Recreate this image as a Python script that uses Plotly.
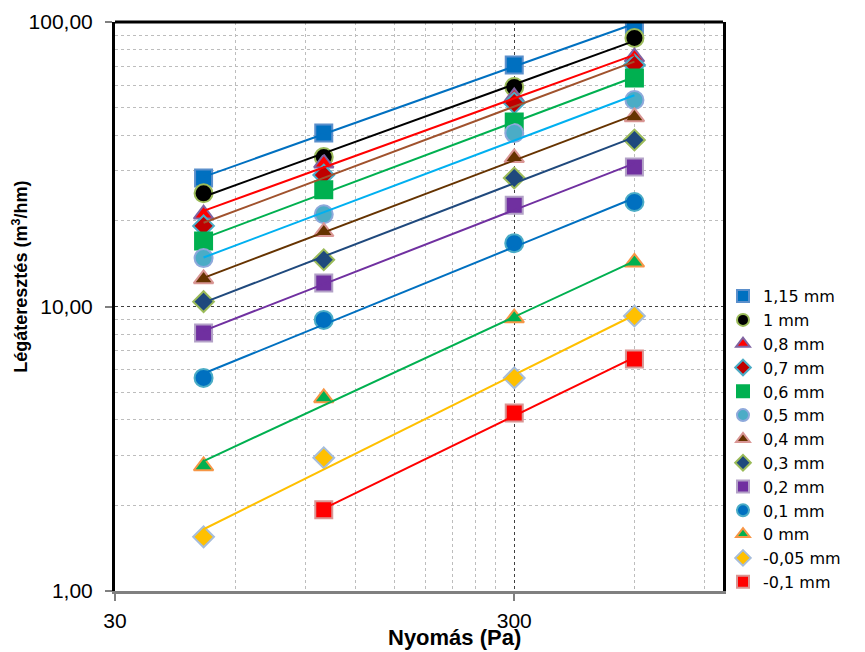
import numpy as np
import plotly.graph_objects as go

# ---------------- data ----------------
pressure = [50, 100, 300, 600]
pressure_short = [100, 300, 600]

labels = ["1,15 mm", "1 mm", "0,8 mm", "0,7 mm", "0,6 mm", "0,5 mm", "0,4 mm",
          "0,3 mm", "0,2 mm", "0,1 mm", "0 mm", "-0,05 mm", "-0,1 mm"]

s_115 = [28.3, 40.7, 70.6, 97.6]
s_100 = [25.0, 33.5, 59.1, 87.9]
s_080 = [21.1, 31.9, 54.5, 75.3]
s_070 = [19.2, 29.0, 51.9, 70.6]
s_060 = [17.0, 25.7, 44.5, 63.6]
s_050 = [14.8, 21.1, 40.7, 53.2]
s_040 = [12.5, 18.3, 33.3, 46.4]
s_030 = [10.4, 14.6, 28.3, 38.5]
s_020 = [8.07, 12.1, 22.7, 30.9]
s_010 = [5.61, 8.97, 16.7, 23.3]
s_000 = [2.75, 4.77, 9.11, 14.3]
s_m005 = [1.55, 2.94, 5.61, 9.26]
s_m010 = [1.93, 4.22, 6.54]

x_tick_vals = [30, 300]
x_tick_text = ["30", "300"]
y_tick_vals = [1, 10, 100]
y_tick_text = ["1,00", "10,00", "100,00"]
x_minor_vals = [60, 90, 120, 150, 180, 210, 240, 270, 600, 900]
y_minor_vals = [2, 3, 4, 5, 6, 7, 8, 9, 20, 30, 40, 50, 60, 70, 80, 90]

series_y = [s_115, s_100, s_080, s_070, s_060, s_050, s_040, s_030, s_020,
            s_010, s_000, s_m005, s_m010]
series_x = [pressure] * 12 + [pressure_short]

# ---------------- styles ----------------
symbols = ["square", "circle", "triangle-up", "diamond", "square", "circle",
           "triangle-up", "diamond", "square", "circle", "triangle-up",
           "diamond", "square"]
fills = ["#0070C0", "#000000", "#FF0000", "#C00000", "#00B050", "#4BACC6",
         "#663300", "#1F497D", "#7030A0", "#0070C0", "#00B050", "#FFC000",
         "#FF0000"]
borders = ["#5B8FCB", "#9BBB59", "#8064A2", "#4BACC6", "#00B050", "#8EA9DB",
           "#D99694", "#9BBB59", "#B3A2C7", "#4BACC6", "#F79646", "#A6BDDB",
           "#D99694"]
line_colors = ["#0070C0", "#000000", "#FF0000", "#A0522D", "#00B050",
               "#00B0F0", "#663300", "#1F497D", "#7030A0", "#0070C0",
               "#00B050", "#FFC000", "#FF0000"]
sizes = {"square": 17, "circle": 18, "triangle-up": 17, "diamond": 16}

FONT = "Liberation Sans, Arial, sans-serif"
LEGEND_FONT = "DejaVu Sans, Liberation Sans, sans-serif"

fig = go.Figure()

# markers (legend entries)
for lab, xs, ys, sym, fc, bc in zip(labels, series_x, series_y, symbols, fills, borders):
    fig.add_trace(go.Scatter(
        x=xs, y=ys, mode="markers", name=lab,
        marker=dict(symbol=sym, size=sizes[sym], color=fc,
                    line=dict(color=bc, width=2)),
    ))

# power-law trendlines fitted to the data (drawn on top, like Excel)
for lab, xs, ys, lc in zip(labels, series_x, series_y, line_colors):
    lx = np.log10(np.array(xs, dtype=float))
    ly = np.log10(np.array(ys, dtype=float))
    b, a = np.polyfit(lx, ly, 1)
    xe = np.array([min(xs), max(xs)], dtype=float)
    ye = 10 ** (a + b * np.log10(xe))
    fig.add_trace(go.Scatter(
        x=xe, y=ye, mode="lines", showlegend=False, hoverinfo="skip",
        line=dict(color=lc, width=2),
    ))

fig.update_layout(
    width=865, height=652,
    margin=dict(l=115, r=142, t=22, b=61, autoexpand=False),
    paper_bgcolor="white", plot_bgcolor="white",
    font=dict(family=FONT, color="#000000"),
    showlegend=True,
    legend=dict(
        x=1.0, xanchor="left", y=0.548, yanchor="top",
        font=dict(family=LEGEND_FONT, size=16, color="#000000"),
        itemsizing="constant", bgcolor="rgba(0,0,0,0)",
        borderwidth=0, tracegroupgap=0,
    ),
    xaxis=dict(
        type="log", range=[np.log10(30), np.log10(1000)],
        tickmode="array", tickvals=x_tick_vals, ticktext=x_tick_text,
        tickfont=dict(size=21, family=FONT),
        ticks="outside", ticklen=7, tickcolor="#808080", tickwidth=2,
        ticklabelstandoff=2,
        showline=True, linecolor="#808080", linewidth=3, mirror=False,
        showgrid=True, gridcolor="#404040", griddash="dot", gridwidth=1,
        zeroline=False,
        minor=dict(tickmode="array", tickvals=x_minor_vals, ticks="",
                   showgrid=True, gridcolor="#BDBDBD", griddash="dot",
                   gridwidth=1),
    ),
    yaxis=dict(
        type="log", range=[0, 2],
        tickmode="array", tickvals=y_tick_vals, ticktext=y_tick_text,
        tickfont=dict(size=21, family=FONT),
        ticks="outside", ticklen=7, tickcolor="#808080", tickwidth=2,
        ticklabelstandoff=8,
        showline=True, linecolor="#000000", linewidth=3, mirror=True,
        showgrid=True, gridcolor="#404040", griddash="dot", gridwidth=1,
        zeroline=False,
        minor=dict(tickmode="array", tickvals=y_minor_vals, ticks="",
                   showgrid=True, gridcolor="#BDBDBD", griddash="dot",
                   gridwidth=1),
    ),
    shapes=[dict(type="line", xref="paper", yref="paper", x0=0, x1=1,
                 y0=1, y1=1, line=dict(color="#000000", width=3),
                 layer="above")],
    annotations=[
        dict(text="<b>Nyomás (Pa)</b>", xref="paper", yref="paper",
             x=0.5576, y=-0.081, xanchor="center", yanchor="middle",
             showarrow=False, font=dict(family=FONT, size=22, color="#000000")),
        dict(text="<b>Légáteresztés (m<sup>3</sup>/hm)</b>", xref="paper",
             yref="paper", x=-0.155, y=0.552, xanchor="center",
             yanchor="middle", textangle=-90, showarrow=False,
             font=dict(family=FONT, size=18, color="#000000")),
    ],
)

fig.write_html("out.html", config={"displayModeBar": False},
               post_script="document.body.style.margin='0';")
